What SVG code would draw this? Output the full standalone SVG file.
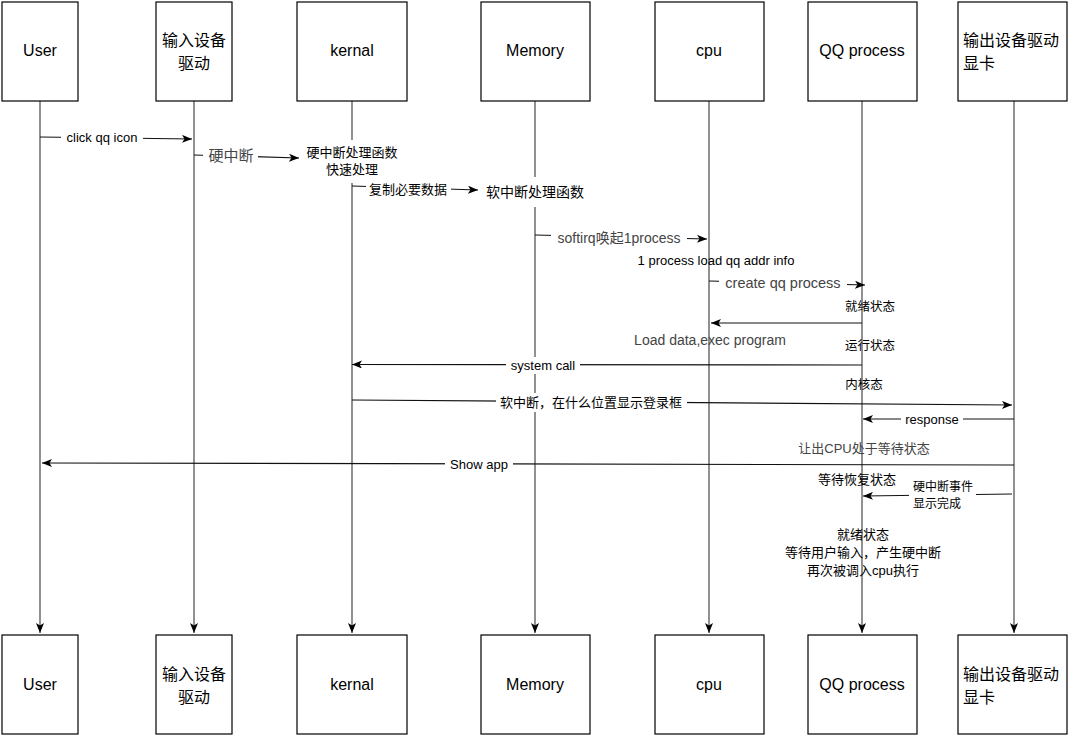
<svg xmlns="http://www.w3.org/2000/svg" width="1071" height="736" viewBox="0 0 1071 736">
<defs>
<marker id="ah" viewBox="0 0 10 8" markerWidth="10" markerHeight="8" refX="10" refY="4" orient="auto" markerUnits="userSpaceOnUse">
<path d="M0,0 L10,4 L0,8 L2.5,4 Z" fill="#000"/>
</marker>
<style>
.box{fill:#fff;stroke:#000;stroke-width:1.2}
.life{fill:none;stroke:#555;stroke-width:1.3}
.msg{fill:none;stroke:#111;stroke-width:1.2}
.bg{fill:#fff;stroke:none}
text{font-family:"Liberation Sans","Noto Sans CJK SC",sans-serif;fill:#000}
.t16{font-size:16px}
.t12{font-size:12px}
.t13{font-size:13px}
.t14{font-size:14px}
.g{fill:#444}
</style>
</defs>
<rect width="1071" height="736" fill="#fff"/>

<g id="lifelines">
<path class="life" d="M40,101 V633" marker-end="url(#ah)"/>
<path class="life" d="M194,101 V633" marker-end="url(#ah)"/>
<path class="life" d="M352,101 V633" marker-end="url(#ah)"/>
<path class="life" d="M535,101 V633" marker-end="url(#ah)"/>
<path class="life" d="M709,101 V633" marker-end="url(#ah)"/>
<path class="life" d="M862,101 V633" marker-end="url(#ah)"/>
<path class="life" d="M1014,101 V633" marker-end="url(#ah)"/>
</g>

<g id="node-user"><rect class="box" x="2" y="2" width="76" height="99"/><text class="t16" x="40" y="56" text-anchor="middle">User</text></g>
<g id="node-input"><rect class="box" x="156" y="2" width="76" height="99"/><text class="t16" x="194" y="46" text-anchor="middle">输入设备</text><text class="t16" x="194" y="69" text-anchor="middle">驱动</text></g>
<g id="node-kernal"><rect class="box" x="297" y="2" width="110" height="99"/><text class="t16" x="352" y="56" text-anchor="middle">kernal</text></g>
<g id="node-memory"><rect class="box" x="481" y="2" width="109" height="99"/><text class="t16" x="535" y="56" text-anchor="middle">Memory</text></g>
<g id="node-cpu"><rect class="box" x="655" y="2" width="109" height="99"/><text class="t16" x="709" y="56" text-anchor="middle">cpu</text></g>
<g id="node-qq"><rect class="box" x="808" y="2" width="109" height="99"/><text class="t16" x="862" y="56" text-anchor="middle">QQ process</text></g>
<g id="node-output"><rect class="box" x="958" y="2" width="109" height="99"/><text class="t16" x="963" y="46">输出设备驱动</text><text class="t16" x="963" y="69">显卡</text></g>

<g id="node-user-b"><rect class="box" x="2" y="635" width="76" height="99"/><text class="t16" x="40" y="690" text-anchor="middle">User</text></g>
<g id="node-input-b"><rect class="box" x="156" y="635" width="76" height="99"/><text class="t16" x="194" y="680" text-anchor="middle">输入设备</text><text class="t16" x="194" y="703" text-anchor="middle">驱动</text></g>
<g id="node-kernal-b"><rect class="box" x="297" y="635" width="110" height="99"/><text class="t16" x="352" y="690" text-anchor="middle">kernal</text></g>
<g id="node-memory-b"><rect class="box" x="481" y="635" width="109" height="99"/><text class="t16" x="535" y="690" text-anchor="middle">Memory</text></g>
<g id="node-cpu-b"><rect class="box" x="655" y="635" width="109" height="99"/><text class="t16" x="709" y="690" text-anchor="middle">cpu</text></g>
<g id="node-qq-b"><rect class="box" x="808" y="635" width="109" height="99"/><text class="t16" x="862" y="690" text-anchor="middle">QQ process</text></g>
<g id="node-output-b"><rect class="box" x="958" y="635" width="109" height="99"/><text class="t16" x="963" y="680">输出设备驱动</text><text class="t16" x="963" y="703">显卡</text></g>

<g id="node-hardirq">
<rect class="bg" x="300" y="140" width="104" height="43"/>
<text class="t13" x="352" y="157" text-anchor="middle">硬中断处理函数</text>
<text class="t13" x="352" y="174" text-anchor="middle">快速处理</text>
</g>
<g id="node-softirq">
<rect class="bg" x="484" y="177" width="104" height="30"/>
<text class="t14" x="535" y="197" text-anchor="middle">软中断处理函数</text>
</g>

<g id="connectors">
<path class="msg" d="M40,137 L192,139" marker-end="url(#ah)"/>
<rect class="bg" x="61" y="129" width="82" height="17"/>
<text class="t13" x="102" y="142" text-anchor="middle">click qq icon</text>

<path class="msg" d="M194,155 L299,158" marker-end="url(#ah)"/>
<rect class="bg" x="203" y="146" width="55" height="20"/>
<text class="g" x="231" y="161" text-anchor="middle" style="font-size:15px">硬中断</text>

<path class="msg" d="M352,186 L478,190" marker-end="url(#ah)"/>
<rect class="bg" x="366" y="180" width="85" height="18"/>
<text class="t13" x="408" y="194" text-anchor="middle">复制必要数据</text>

<path class="msg" d="M535,235 L707,239" marker-end="url(#ah)"/>
<rect class="bg" x="551" y="229" width="136" height="18"/>
<text class="t14 g" x="619" y="243" text-anchor="middle">softirq唤起1process</text>

<path class="msg" d="M709,281 L865,285" marker-end="url(#ah)"/>
<rect class="bg" x="719" y="275" width="128" height="18"/>
<text class="g" x="783" y="288" text-anchor="middle" style="font-size:14.5px">create qq process</text>

<path class="msg" d="M862,323 L711,323" marker-end="url(#ah)"/>

<path class="msg" d="M862,365 L352,364.5" marker-end="url(#ah)"/>
<rect class="bg" x="506" y="357" width="74" height="17"/>
<text class="t13" x="543" y="370" text-anchor="middle">system call</text>

<path class="msg" d="M352,400 L1012,405" marker-end="url(#ah)"/>
<rect class="bg" x="496" y="393" width="191" height="19"/>
<text class="t13" x="591" y="407" text-anchor="middle">软中断，在什么位置显示登录框</text>

<path class="msg" d="M1014,419 L863,419" marker-end="url(#ah)"/>
<rect class="bg" x="901" y="411" width="62" height="17"/>
<text class="t13" x="932" y="423.5" text-anchor="middle">response</text>

<path class="msg" d="M1014,465 L42,463" marker-end="url(#ah)"/>
<rect class="bg" x="445" y="456" width="68" height="18"/>
<text class="t13" x="479" y="469" text-anchor="middle">Show app</text>

<path class="msg" d="M1012,494 L863,496" marker-end="url(#ah)"/>
<rect class="bg" x="909" y="477" width="67" height="36"/>
<text class="t12" x="913" y="491">硬中断事件</text>
<text class="t12" x="913" y="508">显示完成</text>
</g>

<g id="notes">
<text class="t13" x="716" y="265" text-anchor="middle">1 process load qq addr info</text>
<text class="t12" x="870" y="311" text-anchor="middle" style="font-size:12.5px">就绪状态</text>
<text class="t14 g" x="710" y="345" text-anchor="middle">Load data,exec program</text>
<text class="t12" x="870" y="350" text-anchor="middle" style="font-size:12.5px">运行状态</text>
<text class="t12" x="864" y="389" text-anchor="middle" style="font-size:12.5px">内核态</text>
<text class="t13 g" x="864" y="453" text-anchor="middle">让出CPU处于等待状态</text>
<text class="t13" x="857" y="484" text-anchor="middle">等待恢复状态</text>
<text class="t13" x="863" y="539" text-anchor="middle">就绪状态</text>
<text class="t13" x="863" y="557" text-anchor="middle">等待用户输入，产生硬中断</text>
<text class="t13" x="863" y="575" text-anchor="middle">再次被调入cpu执行</text>
</g>
</svg>
